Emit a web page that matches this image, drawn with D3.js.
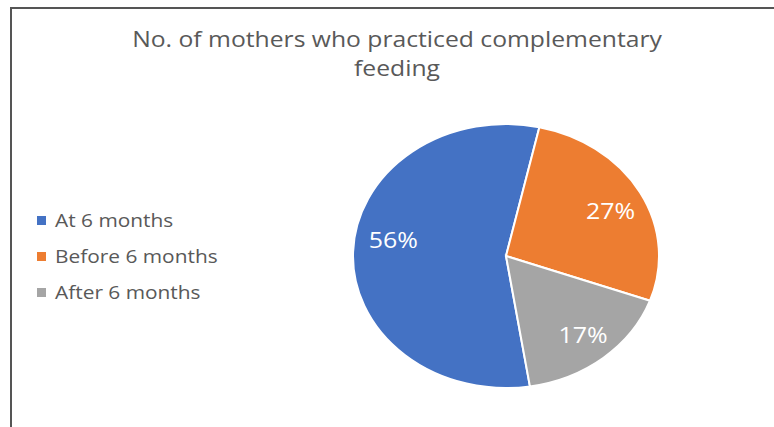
<!DOCTYPE html>
<html>
<head>
<meta charset="utf-8">
<script src="https://cdnjs.cloudflare.com/ajax/libs/d3/7.8.5/d3.min.js"></script>
<style>
  html, body { margin: 0; padding: 0; background: #fff; }
  svg { display: block; font-family: "Open Sans", "Noto Sans", sans-serif; }
</style>
</head>
<body>
<div id="chart"></div>
<script>
const categories = ["At 6 months", "Before 6 months", "After 6 months"];
const values = [56, 27, 17];
const labels = ["56%", "27%", "17%"];
const colors = ["#4472C4", "#ED7D31", "#A5A5A5"];
const titleLines = ["No. of mothers who practiced complementary", "feeding"];

const width = 774, height = 427;
// the source picture is stretched sideways, text included
const stretch = 1.16;

const svg = d3.select("#chart")
  .append("svg")
  .attr("width", width)
  .attr("height", height);

// frame (only top and left edges show in the picture)
svg.append("path")
  .attr("d", `M11,${height} L11,8 L${width},8`)
  .attr("fill", "none")
  .attr("stroke", "#555")
  .attr("stroke-width", 2);

// title
svg.append("g")
  .selectAll("text")
  .data(titleLines)
  .join("text")
  .attr("transform", (d, i) => `translate(397,${47 + i * 29}) scale(${stretch},1)`)
  .attr("text-anchor", "middle")
  .attr("font-size", 21.3)
  .attr("fill", "#595959")
  .text(d => d);

// pie, drawn as a circle then stretched into the ellipse seen in the picture
const cx = 506, cy = 256, rx = 153, ry = 132;
const R = 100;

const pie = d3.pie()
  .sort(null)
  .value(d => d)
  .startAngle(171 * Math.PI / 180)
  .endAngle((171 + 360) * Math.PI / 180);

const arcs = pie(values);
const arc = d3.arc().innerRadius(0).outerRadius(R);
const labelArc = d3.arc().innerRadius(R * 0.75).outerRadius(R * 0.75);

const g = svg.append("g")
  .attr("transform", `translate(${cx},${cy}) scale(${rx / R},${ry / R})`);

g.selectAll("path")
  .data(arcs)
  .join("path")
  .attr("d", arc)
  .attr("fill", (d, i) => colors[i])
  .attr("stroke", "#fff")
  .attr("stroke-width", 2)
  .attr("vector-effect", "non-scaling-stroke");

svg.append("g")
  .selectAll("text")
  .data(arcs)
  .join("text")
  .attr("transform", (d, i) => {
    const [x, y] = labelArc.centroid(d);
    return `translate(${cx + x * rx / R + (i === 0 ? 2 : 4)},${cy + y * ry / R + (i === 0 ? -13 : 2)}) scale(${stretch},1)`;
  })
  .attr("text-anchor", "middle")
  .attr("dominant-baseline", "central")
  .attr("font-size", 21.5)
  .attr("fill", "#fff")
  .text((d, i) => labels[i]);

// legend
const legend = svg.append("g")
  .selectAll("g")
  .data(categories)
  .join("g")
  .attr("transform", (d, i) => `translate(37,${220 + i * 36})`);

legend.append("rect")
  .attr("x", 0)
  .attr("y", -4)
  .attr("width", 9)
  .attr("height", 9)
  .attr("fill", (d, i) => colors[i]);

legend.append("text")
  .attr("transform", `translate(18,0) scale(${stretch},1)`)
  .attr("dominant-baseline", "central")
  .attr("font-size", 18)
  .attr("fill", "#595959")
  .text(d => d);
</script>
</body>
</html>
